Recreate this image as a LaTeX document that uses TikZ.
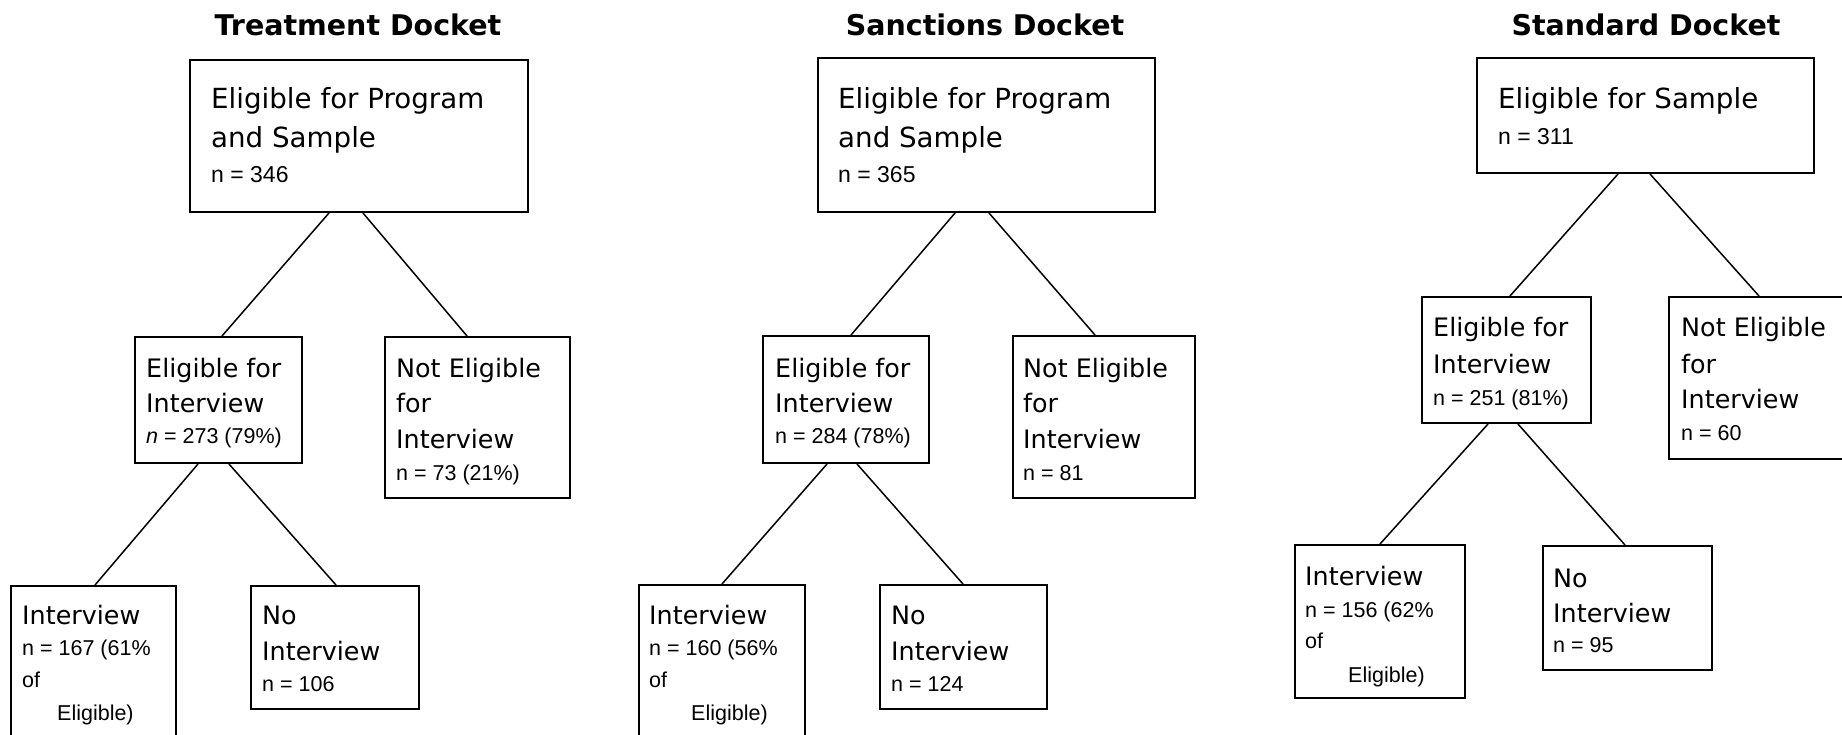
\documentclass[tikz,border=0pt]{standalone}
\usepackage{fontspec}
\setmainfont{DejaVu Sans}
\newfontfamily\narrowfont{Liberation Sans}
\begin{document}
\begin{tikzpicture}[x=1pt,y=-1pt,
  box/.style={draw=black, line width=2pt, rectangle, inner sep=0pt, anchor=north west},
  link/.style={draw=black, line width=1.5pt},
  ttl/.style={font=\fontsize{28.5}{34}\selectfont\bfseries, anchor=base, inner sep=0pt},
  big/.style={font=\fontsize{27.7}{33}\selectfont, anchor=base west, inner sep=0pt},
  txt/.style={font=\fontsize{25.4}{30}\selectfont, anchor=base west, inner sep=0pt},
  nbig/.style={font=\narrowfont\fontsize{23}{27}\selectfont, anchor=base west, inner sep=0pt},
  nrw/.style={font=\narrowfont\fontsize{21.5}{25}\selectfont, anchor=base west, inner sep=0pt}]
\useasboundingbox (0,0) rectangle (1842,735);
\clip (0,0) rectangle (1842,735);

% ---------------- Treatment Docket ----------------
\node[ttl] (tT) at (358,36) {Treatment Docket};
\node[box, minimum width=338pt, minimum height=152pt] (tA) at (189,59) {};
\node[box, minimum width=167pt, minimum height=126pt] (tB) at (134,336) {};
\node[box, minimum width=185pt, minimum height=161pt] (tC) at (384,336) {};
\node[box, minimum width=165pt, minimum height=200pt] (tD) at (10,585) {};
\node[box, minimum width=168pt, minimum height=123pt] (tE) at (250,585) {};
\draw[link] ([xshift=140pt]tA.south west) -- ([xshift=88pt]tB.north west);
\draw[link] ([xshift=174pt]tA.south west) -- ([xshift=83pt]tC.north west);
\draw[link] ([xshift=64pt]tB.south west) -- ([xshift=85pt]tD.north west);
\draw[link] ([xshift=95pt]tB.south west) -- ([xshift=86pt]tE.north west);
\node[big] (tA1) at (211,109) {Eligible for Program};
\node[big] (tA2) at (211,148) {and Sample};
\node[nbig] (tA3) at (211,183) {n = 346};
\node[txt] (tB1) at (146,377) {Eligible for};
\node[txt] (tB2) at (146,412) {Interview};
\node[nrw] (tB3) at (146,443) {\itshape n\upshape{} = 273 (79\%)};
\node[txt] (tC1) at (396,377) {Not Eligible};
\node[txt] (tC2) at (396,412) {for};
\node[txt] (tC3) at (396,448) {Interview};
\node[nrw] (tC4) at (396,480) {n = 73 (21\%)};
\node[txt] (tD1) at (22,624) {Interview};
\node[nrw] (tD2) at (22,655) {n = 167 (61\%};
\node[nrw] (tD3) at (22,687) {of};
\node[nrw] (tD4) at (57,720) {Eligible)};
\node[txt] (tE1) at (262,624) {No};
\node[txt] (tE2) at (262,660) {Interview};
\node[nrw] (tE3) at (262,691) {n = 106};

% ---------------- Sanctions Docket ----------------
\node[ttl] (sT) at (985,36) {Sanctions Docket};
\node[box, minimum width=337pt, minimum height=154pt] (sA) at (817,57) {};
\node[box, minimum width=166pt, minimum height=127pt] (sB) at (762,335) {};
\node[box, minimum width=182pt, minimum height=162pt] (sC) at (1012,335) {};
\node[box, minimum width=166pt, minimum height=200pt] (sD) at (638,584) {};
\node[box, minimum width=167pt, minimum height=124pt] (sE) at (879,584) {};
\draw[link] ([xshift=138pt]sA.south west) -- ([xshift=89pt]sB.north west);
\draw[link] ([xshift=172pt]sA.south west) -- ([xshift=83pt]sC.north west);
\draw[link] ([xshift=65pt]sB.south west) -- ([xshift=84pt]sD.north west);
\draw[link] ([xshift=95pt]sB.south west) -- ([xshift=84pt]sE.north west);
\node[big] (sA1) at (838,109) {Eligible for Program};
\node[big] (sA2) at (838,148) {and Sample};
\node[nbig] (sA3) at (838,183) {n = 365};
\node[txt] (sB1) at (775,377) {Eligible for};
\node[txt] (sB2) at (775,412) {Interview};
\node[nrw] (sB3) at (775,443) {n = 284 (78\%)};
\node[txt] (sC1) at (1023,377) {Not Eligible};
\node[txt] (sC2) at (1023,412) {for};
\node[txt] (sC3) at (1023,448) {Interview};
\node[nrw] (sC4) at (1023,480) {n = 81};
\node[txt] (sD1) at (649,624) {Interview};
\node[nrw] (sD2) at (649,655) {n = 160 (56\%};
\node[nrw] (sD3) at (649,687) {of};
\node[nrw] (sD4) at (691,720) {Eligible)};
\node[txt] (sE1) at (891,624) {No};
\node[txt] (sE2) at (891,660) {Interview};
\node[nrw] (sE3) at (891,691) {n = 124};

% ---------------- Standard Docket ----------------
\node[ttl] (dT) at (1646,36) {Standard Docket};
\node[box, minimum width=337pt, minimum height=115pt] (dA) at (1476,57) {};
\node[box, minimum width=169pt, minimum height=126pt] (dB) at (1421,296) {};
\node[box, minimum width=200pt, minimum height=162pt] (dC) at (1668,296) {};
\node[box, minimum width=170pt, minimum height=153pt] (dD) at (1294,544) {};
\node[box, minimum width=169pt, minimum height=124pt] (dE) at (1542,545) {};
\draw[link] ([xshift=142pt]dA.south west) -- ([xshift=89pt]dB.north west);
\draw[link] ([xshift=174pt]dA.south west) -- ([xshift=91pt]dC.north west);
\draw[link] ([xshift=67pt]dB.south west) -- ([xshift=86pt]dD.north west);
\draw[link] ([xshift=97pt]dB.south west) -- ([xshift=83pt]dE.north west);
\node[big] (dA1) at (1498,109) {Eligible for Sample};
\node[nbig] (dA2) at (1498,145) {n = 311};
\node[txt] (dB1) at (1433,337) {Eligible for};
\node[txt] (dB2) at (1433,373) {Interview};
\node[nrw] (dB3) at (1433,405) {n = 251 (81\%)};
\node[txt] (dC1) at (1681,337) {Not Eligible};
\node[txt] (dC2) at (1681,373) {for};
\node[txt] (dC3) at (1681,408) {Interview};
\node[nrw] (dC4) at (1681,440) {n = 60};
\node[txt] (dD1) at (1305,585) {Interview};
\node[nrw] (dD2) at (1305,617) {n = 156 (62\%};
\node[nrw] (dD3) at (1305,648) {of};
\node[nrw] (dD4) at (1348,682) {Eligible)};
\node[txt] (dE1) at (1553,587) {No};
\node[txt] (dE2) at (1553,622) {Interview};
\node[nrw] (dE3) at (1553,652) {n = 95};
\end{tikzpicture}
\end{document}
